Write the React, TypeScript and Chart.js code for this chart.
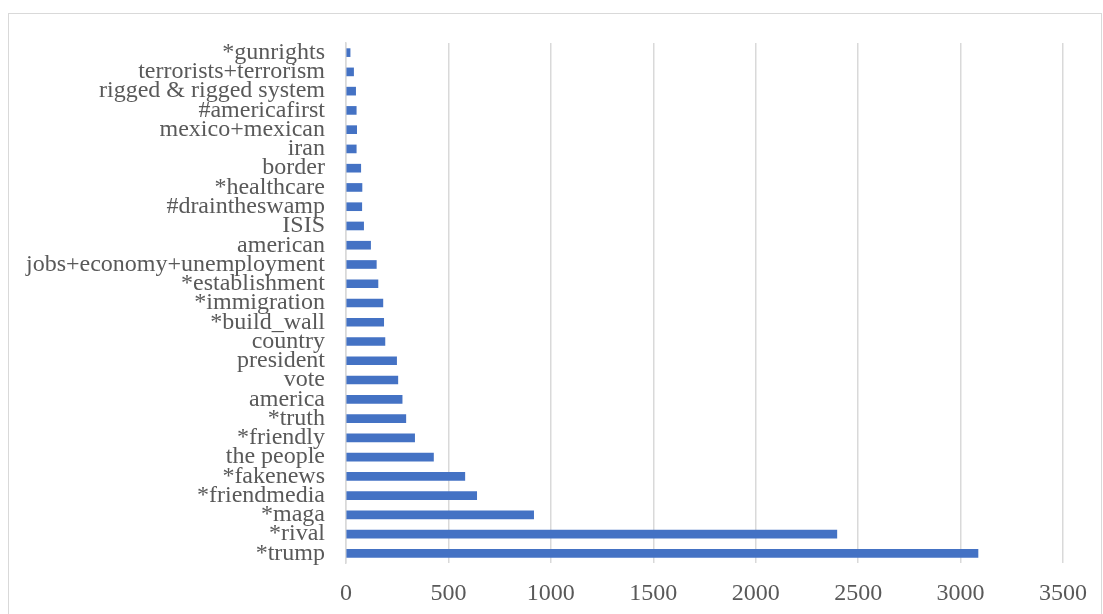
import React, { useEffect, useRef } from "react";
import { Chart, registerables } from "chart.js";

Chart.register(...registerables);

const categories: string[] = [
  "*gunrights",
  "terrorists+terrorism",
  "rigged & rigged system",
  "#americafirst",
  "mexico+mexican",
  "iran",
  "border",
  "*healthcare",
  "#draintheswamp",
  "ISIS",
  "american",
  "jobs+economy+unemployment",
  "*establishment",
  "*immigration",
  "*build_wall",
  "country",
  "president",
  "vote",
  "america",
  "*truth",
  "*friendly",
  "the people",
  "*fakenews",
  "*friendmedia",
  "*maga",
  "*rival",
  "*trump",
];

const counts: number[] = [
  20, 37, 47, 50, 52, 50, 72, 78, 77, 86, 120, 148, 156, 180, 184, 190, 247,
  253, 274, 292, 335, 427, 580, 638, 916, 2396, 3085,
];

const xTicks: number[] = [0, 500, 1000, 1500, 2000, 2500, 3000, 3500];

export default function App() {
  const ref = useRef<HTMLCanvasElement | null>(null);

  useEffect(() => {
    if (!ref.current) return;
    const chart = new Chart(ref.current, {
      type: "bar",
      data: {
        labels: categories,
        datasets: [
          {
            data: counts,
            backgroundColor: "#4472C4",
            borderWidth: 0,
            barThickness: 8,
          },
        ],
      },
      options: {
        indexAxis: "y",
        animation: false,
        responsive: false,
        maintainAspectRatio: false,
        layout: { padding: { left: 0, right: 40, top: 43, bottom: 0 } },
        plugins: { legend: { display: false }, tooltip: { enabled: false } },
        scales: {
          x: {
            min: xTicks[0],
            max: xTicks[xTicks.length - 1],
            afterBuildTicks: (scale: any) => {
              scale.ticks = xTicks.map((v) => ({ value: v }));
            },
            afterFit: (scale: any) => {
              scale.height = 51;
            },
            grid: { color: "#d9d9d9", lineWidth: 1.5, drawTicks: false },
            border: { display: false },
            ticks: {
              padding: 16,
              color: "#595959",
              font: { family: "Liberation Serif", size: 24 },
              maxRotation: 0,
              callback: (v: any) => String(v),
            },
          },
          y: {
            afterFit: (scale: any) => {
              scale.width = 346;
            },
            grid: { display: false, drawTicks: false },
            border: { display: true, color: "#d9d9d9", width: 1.5 },
            ticks: {
              autoSkip: false,
              padding: 21,
              color: "#595959",
              font: { family: "Liberation Serif", size: 24 },
            },
          },
        },
      },
    });
    return () => chart.destroy();
  }, []);

  return (
    <div style={{ position: "absolute", left: 0, top: 0, width: 1103, height: 614, overflow: "hidden", background: "#fff" }}>
      <div
        style={{
          position: "absolute",
          left: 8,
          top: 13,
          width: 1092,
          height: 620,
          border: "1px solid #d9d9d9",
        }}
      />
      <canvas ref={ref} width={1103} height={614} style={{ position: "absolute", left: 0, top: 0 }} />
    </div>
  );
}
